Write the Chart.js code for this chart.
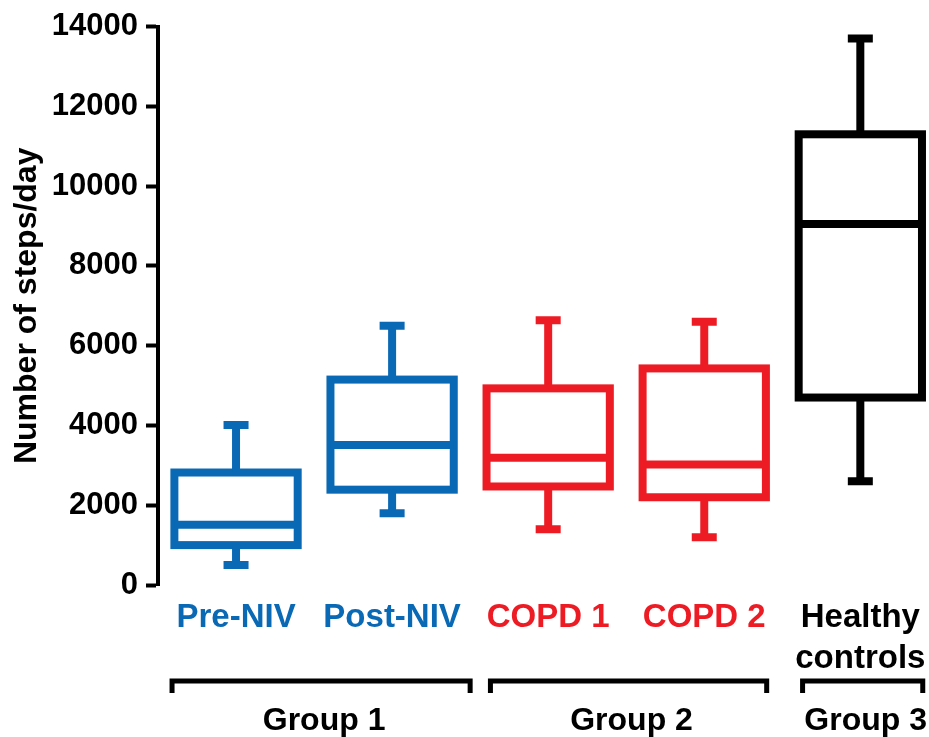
<!DOCTYPE html>
<html>
<head>
<meta charset="utf-8">
<script src="https://cdn.jsdelivr.net/npm/chart.js@4.4.1/dist/chart.umd.min.js"></script>
<style>
  html, body { margin: 0; padding: 0; background: #fff; }
  #wrap { width: 929px; height: 737px; position: relative; }
</style>
</head>
<body>
<div id="wrap"><canvas id="stepsChart"></canvas></div>
<script>
const groupNames = ['Pre-NIV', 'Post-NIV', 'COPD 1', 'COPD 2', ['Healthy', 'controls']];
const groupColors = ['#0a69b4', '#0a69b4', '#ed1c24', '#ed1c24', '#000000'];

// box plot values (steps/day)
const whiskerLow = [500, 1800, 1400, 1200, 2600];
const q1 = [1000, 2390, 2470, 2200, 4700];
const medians = [1510, 3510, 3190, 3020, 9050];
const q3 = [2820, 5150, 4930, 5430, 11300];
const whiskerHigh = [4010, 6500, 6640, 6600, 13700];

// brackets under the axis, spans given in x-axis units
const studyGroups = [
  { label: 'Group 1', from: -0.41, to: 1.5 },
  { label: 'Group 2', from: 1.63, to: 3.4 },
  { label: 'Group 3', from: 3.63, to: 4.4 },
];

const fontFamily = '"Liberation Sans", Arial, Helvetica, sans-serif';
Chart.defaults.font.family = fontFamily;

const boxData = groupNames.map((name, i) => ({ x: i, y: [q1[i], q3[i]] }));

// boxes, medians and whiskers, stroked around each bar's position
const boxExtras = {
  id: 'boxExtras',
  afterDatasetsDraw(chart) {
    const ctx = chart.ctx;
    const yScale = chart.scales.y;
    const meta = chart.getDatasetMeta(0);
    ctx.save();
    ctx.lineWidth = 8;
    ctx.lineCap = 'butt';
    ctx.lineJoin = 'miter';
    meta.data.forEach((bar, i) => {
      const { x, width } = bar.getProps(['x', 'width'], true);
      const yMed = yScale.getPixelForValue(medians[i]);
      const yHi = yScale.getPixelForValue(whiskerHigh[i]);
      const yLo = yScale.getPixelForValue(whiskerLow[i]);
      const yQ3 = yScale.getPixelForValue(q3[i]);
      const yQ1 = yScale.getPixelForValue(q1[i]);
      ctx.strokeStyle = groupColors[i];
      ctx.strokeRect(x - width / 2, yQ3, width, yQ1 - yQ3);
      ctx.beginPath();
      // median
      ctx.moveTo(x - width / 2, yMed);
      ctx.lineTo(x + width / 2, yMed);
      // upper whisker
      ctx.moveTo(x, yQ3);
      ctx.lineTo(x, yHi);
      ctx.moveTo(x - 12.5, yHi);
      ctx.lineTo(x + 12.5, yHi);
      // lower whisker
      ctx.moveTo(x, yQ1);
      ctx.lineTo(x, yLo);
      ctx.moveTo(x - 12.5, yLo);
      ctx.lineTo(x + 12.5, yLo);
      ctx.stroke();
    });
    ctx.restore();
  }
};

const groupBrackets = {
  id: 'groupBrackets',
  afterDraw(chart) {
    const ctx = chart.ctx;
    const xScale = chart.scales.x;
    const base = chart.chartArea.bottom;
    const lineY = base + 96;
    ctx.save();
    ctx.strokeStyle = '#000';
    ctx.fillStyle = '#000';
    ctx.lineWidth = 5;
    ctx.font = 'bold 32px ' + fontFamily;
    ctx.textAlign = 'center';
    ctx.textBaseline = 'middle';
    studyGroups.forEach(g => {
      const left = xScale.getPixelForValue(g.from);
      const right = xScale.getPixelForValue(g.to);
      ctx.beginPath();
      ctx.moveTo(left, lineY + 12);
      ctx.lineTo(left, lineY);
      ctx.lineTo(right, lineY);
      ctx.lineTo(right, lineY + 12);
      ctx.stroke();
      ctx.fillText(g.label, (left + right) / 2 + 3, base + 136);
    });
    ctx.restore();
  }
};

const stepsChart = new Chart(document.getElementById('stepsChart'), {
  type: 'bar',
  data: {
    datasets: [{
      data: boxData,
      backgroundColor: 'rgba(0,0,0,0)',
      borderWidth: 0,
      categoryPercentage: 1,
      barPercentage: 0.79,
    }]
  },
  options: {
    responsive: true,
    maintainAspectRatio: false,
    animation: false,
    layout: { padding: { top: 24, right: 0, bottom: 52, left: 0 } },
    plugins: {
      legend: { display: false },
      tooltip: { enabled: false },
    },
    scales: {
      x: {
        type: 'linear',
        min: -0.5,
        max: 4.44,
        offset: false,
        afterBuildTicks: (axis) => {
          axis.ticks = groupNames.map((n, i) => ({ value: i }));
        },
        afterFit: (axis) => {
          axis.height = 100;
          axis.paddingLeft = 0;
          axis.paddingRight = 0;
        },
        grid: { display: false, drawTicks: false },
        border: { display: false },
        ticks: {
          autoSkip: false,
          maxRotation: 0,
          padding: 12,
          callback: (v) => groupNames[v],
          color: (c) => groupColors[c.index],
          font: { size: 33, weight: 'bold', lineHeight: 1.25 },
        },
      },
      y: {
        min: 0,
        max: 14000,
        afterFit: (axis) => { axis.width = 158; },
        ticks: {
          stepSize: 2000,
          padding: 8,
          color: '#000',
          callback: (v) => String(v),
          font: { size: 31, weight: 'bold' },
        },
        grid: {
          display: true,
          drawOnChartArea: false,
          drawTicks: true,
          tickLength: 12,
          tickWidth: 4,
          tickColor: '#000',
        },
        border: { display: true, color: '#000', width: 4 },
        title: {
          display: true,
          text: 'Number of steps/day',
          color: '#000',
          padding: { top: 8, bottom: 0 },
          font: { size: 32, weight: 'bold' },
        },
      },
    },
  },
  plugins: [boxExtras, groupBrackets],
});
</script>
</body>
</html>
